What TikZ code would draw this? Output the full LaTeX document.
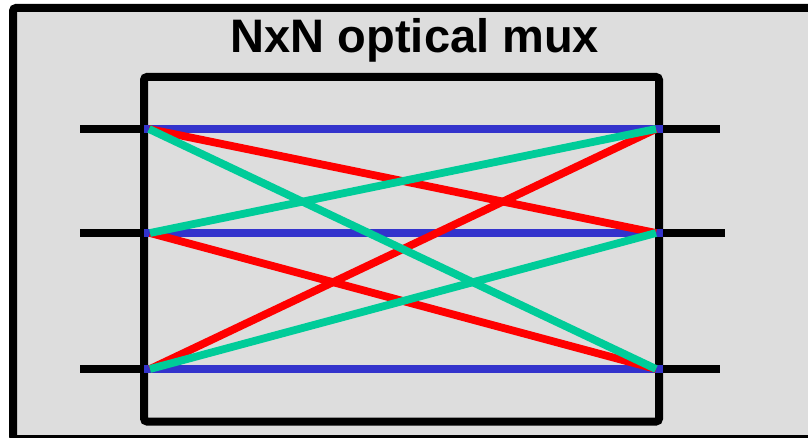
\documentclass[tikz,border=0pt]{standalone}
\usepackage{fontspec}
\setmainfont{Liberation Sans}
\begin{document}
\begin{tikzpicture}[x=1pt,y=-1pt,
  frame/.style={draw=black,line width=8pt,rounded corners=3pt},
  stub/.style={draw=black,line width=7.5pt},
  bluel/.style={draw={rgb,255:red,51;green,51;blue,204},line width=7.5pt},
  redl/.style={draw={rgb,255:red,255;green,0;blue,0},line width=7.8pt},
  greenl/.style={draw={rgb,255:red,0;green,204;blue,153},line width=7.8pt}]
\useasboundingbox (0,0) rectangle (808,438);
\clip (0,0) rectangle (808,438);
\fill[white] (0,0) rectangle (808,438);
\draw[frame,fill={rgb,255:red,221;green,221;blue,221}] (13,8) rectangle (816,439);
\node[font=\bfseries\fontsize{47}{50}\selectfont,inner sep=0pt] (title) at (415,40) {NxN optical mux};
% port coordinates
\coordinate (l1) at (80,129);  \coordinate (r1) at (720,129);
\coordinate (l2) at (80,233);  \coordinate (r2) at (725,233);
\coordinate (l3) at (80,369);  \coordinate (r3) at (720,369);
\coordinate (a1) at (149,129); \coordinate (b1) at (656,129);
\coordinate (a2) at (150,233); \coordinate (b2) at (656,233);
\coordinate (a3) at (150,369); \coordinate (b3) at (656,369);
\coordinate (ab1) at (144,129); \coordinate (bb1) at (663,129);
\coordinate (ab2) at (144,233); \coordinate (bb2) at (663,233);
\coordinate (ab3) at (144,369); \coordinate (bb3) at (663,369);
% inner box
\draw[frame] (144,77) rectangle (659,421.5);
% stubs
\draw[stub] (l1) -- (ab1); \draw[stub] (bb1) -- (r1);
\draw[stub] (l2) -- (ab2); \draw[stub] (bb2) -- (r2);
\draw[stub] (l3) -- (ab3); \draw[stub] (bb3) -- (r3);
% blue
\draw[bluel] (ab1) -- (bb1);
\draw[bluel] (ab2) -- (bb2);
\draw[bluel] (ab3) -- (bb3);
% red
\draw[redl] (a1) -- (b2);
\draw[redl] (a2) -- (b3);
\draw[redl] (a3) -- (b1);
% green
\draw[greenl] (a1) -- (b3);
\draw[greenl] (a2) -- (b1);
\draw[greenl] (a3) -- (b2);
\end{tikzpicture}
\end{document}
